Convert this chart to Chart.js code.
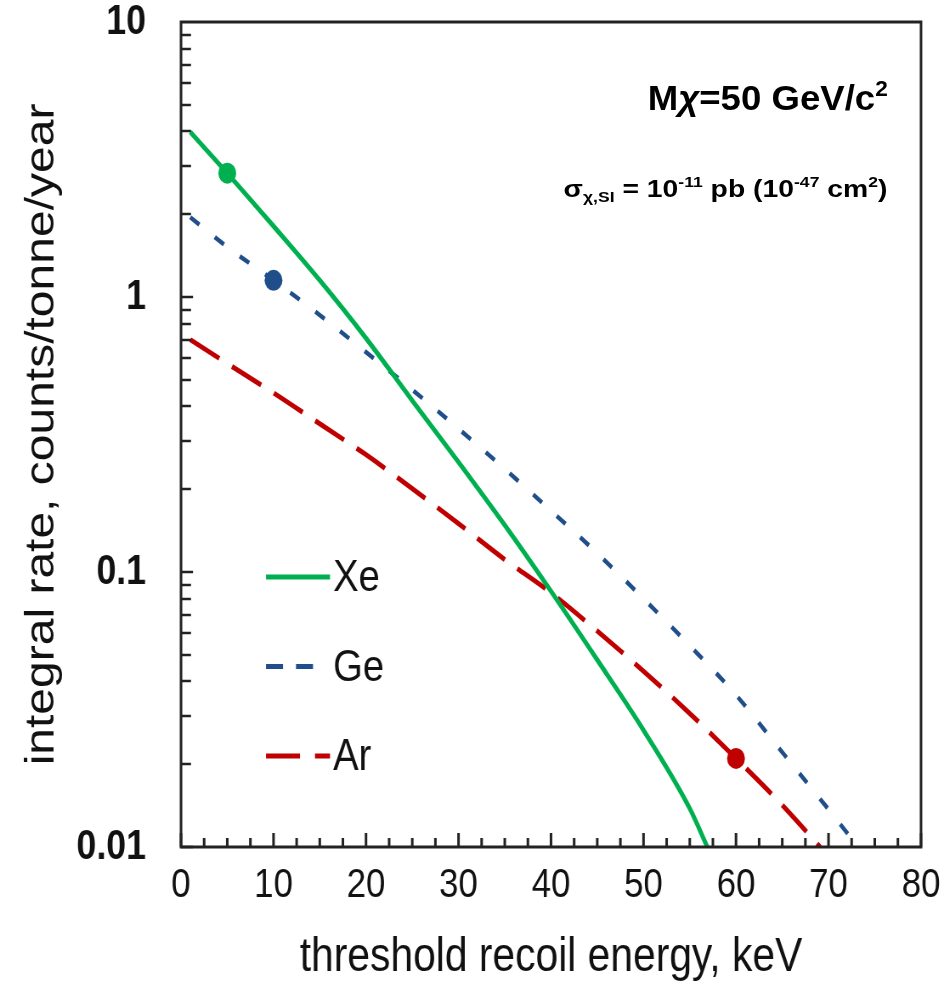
<!DOCTYPE html>
<html>
<head>
<meta charset="utf-8">
<script src="https://cdn.jsdelivr.net/npm/chart.js@4.4.1/dist/chart.umd.min.js"></script>
<style>
  body { margin: 0; background: #fff; }
  #wrap { position: relative; width: 944px; height: 991px; overflow: hidden; }
  #rateChart { width: 944px; height: 991px; }
  .note { position: absolute; font-family: 'Liberation Sans', Arial, sans-serif; font-weight: bold;
          color: #000; white-space: nowrap; line-height: 1; transform-origin: right center; }
  .note sup, .note sub { font-size: 62%; vertical-align: baseline; position: relative; }
  .note sup { top: -0.65em; }
  .note sub { top: 0.35em; }
</style>
</head>
<body>
<div id="wrap">
  <canvas id="rateChart" width="1111" height="991" style="width:944px;height:991px"></canvas>
  <div class="note" style="right:56px; top:80px; font-size:35px; transform:scaleX(1.045)">M<i>χ</i>=50 GeV/c<sup>2</sup></div>
  <div class="note" style="right:57px; top:177px; font-size:24px; transform:scaleX(1.18)">σ<sub>χ,SI</sub> = 10<sup>-11</sup> pb (10<sup>-47</sup> cm<sup>2</sup>)</div>
</div>
<script>
// threshold energy (keV) vs integral rate (counts/tonne/year)
const xeEnergy = [1, 5, 10, 15, 20, 25, 30, 35, 40, 45, 50, 55, 56.9]
const xeRate   = [3.98, 2.82, 1.81, 1.15, 0.708, 0.42, 0.251, 0.148, 0.0851, 0.0479, 0.0266, 0.0138, 0.01]

const geEnergy = [1, 5, 10, 15, 20, 25, 30, 35, 40, 45, 50, 55, 60, 65, 70, 73.2]
const geRate   = [1.95, 1.52, 1.15, 0.86, 0.63, 0.46, 0.332, 0.237, 0.167, 0.117, 0.080, 0.054, 0.0357, 0.0221, 0.0137, 0.01]

const arEnergy = [1, 5, 10, 15, 20, 25, 30, 35, 40, 45, 50, 55, 60, 65, 69.1]
const arRate   = [0.70, 0.573, 0.448, 0.346, 0.267, 0.201, 0.150, 0.111, 0.084, 0.061, 0.0436, 0.0306, 0.021, 0.0142, 0.01]

// energy at which each curve carries its dot
const xeMarker = 5
const geMarker = 10
const arMarker = 60

const xTicks = [0, 10, 20, 30, 40, 50, 60, 70, 80]
const xMinorStep = 2.5
const yTicks = [0.01, 0.1, 1, 10]
const yTickLabels = ['0.01', '0.1', '1', '10']

// the original figure is a bit squashed sideways: draw wide, show at 944px
const squeeze = 944 / 1111
const px = v => v / squeeze

const font = "'Liberation Sans', Arial, sans-serif"

function pairs(xs, ys) {
  return xs.map((x, i) => ({x: x, y: ys[i]}))
}

function series(label, xs, ys, color, width, dash, legend, marker) {
  return {
    label: label,
    data: pairs(xs, ys),
    borderColor: color,
    backgroundColor: color,
    borderWidth: width,
    borderDash: dash,
    legend: legend,
    cubicInterpolationMode: 'monotone',
    pointRadius: ctx => (ctx.raw && ctx.raw.x === marker ? 10.5 : 0),
    pointHoverRadius: 0,
    pointBorderWidth: 0
  }
}

// ticks pointing inwards + closed frame
const frameTicks = {
  id: 'frameTicks',
  afterDraw(chart) {
    const {ctx, chartArea: a, scales: {x, y}} = chart
    ctx.save()
    ctx.strokeStyle = '#222'
    ctx.lineWidth = 3
    ctx.beginPath()
    for (let v = x.min; v <= x.max; v += xMinorStep) {
      const p = x.getPixelForValue(v)
      const len = xTicks.includes(v) ? 14 : 9
      ctx.moveTo(p, a.bottom)
      ctx.lineTo(p, a.bottom - len)
    }
    ctx.stroke()
    ctx.lineWidth = 2.5
    ctx.beginPath()
    for (let d = 0; d < yTicks.length - 1; d++) {
      for (let m = 1; m < 10; m++) {
        const p = Math.round(y.getPixelForValue(yTicks[d] * m))
        const len = m === 1 ? px(12) : px(10)
        ctx.moveTo(a.left, p)
        ctx.lineTo(a.left + len, p)
      }
    }
    ctx.stroke()
    ctx.lineWidth = 3
    ctx.strokeRect(a.left, a.top, a.right - a.left, a.bottom - a.top)
    ctx.restore()
  }
}

// legend drawn inside the plot, lower left
const innerLegend = {
  id: 'innerLegend',
  afterDatasetsDraw(chart) {
    const ctx = chart.ctx
    const top = 577, step = 89.5
    ctx.save()
    chart.data.datasets.forEach((ds, i) => {
      const yy = top + i * step
      ctx.strokeStyle = ds.borderColor
      ctx.lineWidth = 5
      ctx.setLineDash(ds.legend.dash.map(px))
      ctx.beginPath()
      ctx.moveTo(px(266), yy)
      ctx.lineTo(px(ds.legend.end), yy)
      ctx.stroke()
      ctx.setLineDash([])
      ctx.fillStyle = '#111'
      ctx.font = '45px ' + font
      ctx.textBaseline = 'middle'
      ctx.fillText(ds.label, px(333), yy + 2)
    })
    ctx.restore()
  }
}

const ctx = document.getElementById('rateChart').getContext('2d')
const rateChart = new Chart(ctx, {
  type: 'line',
  data: {
    datasets: [
      series('Xe', xeEnergy, xeRate, '#00B050', 5, [], {dash: [], end: 330}, xeMarker),
      series('Ge', geEnergy, geRate, '#1F4E8A', 4.5, [13, 22], {dash: [17, 13], end: 316}, geMarker),
      series('Ar', arEnergy, arRate, '#C00000', 5, [39, 17], {dash: [34, 15], end: 330}, arMarker)
    ]
  },
  options: {
    responsive: false,
    animation: false,
    layout: {padding: {left: 0, top: 22, right: px(23), bottom: 0}},
    plugins: {legend: {display: false}, tooltip: {enabled: false}},
    scales: {
      x: {
        type: 'linear',
        min: 0,
        max: 80,
        afterFit: s => { s.height = 144; s.paddingLeft = 0; s.paddingRight = 0 },
        afterBuildTicks: s => { s.ticks = xTicks.map(v => ({value: v})) },
        grid: {display: false, drawTicks: false},
        border: {display: false},
        ticks: {color: '#111', padding: 14, maxRotation: 0, font: {family: font, size: 41}},
        title: {display: true, text: 'threshold recoil energy, keV', color: '#111',
                padding: {top: 0, bottom: 4}, font: {family: font, size: 48}}
      },
      y: {
        type: 'logarithmic',
        min: 0.01,
        max: 10,
        afterFit: s => { s.width = px(181); s.paddingTop = 0; s.paddingBottom = 0 },
        afterBuildTicks: s => { s.ticks = yTicks.map(v => ({value: v})) },
        grid: {display: false, drawTicks: false},
        border: {display: false},
        ticks: {color: '#111', padding: px(35), autoSkip: false,
                callback: v => yTickLabels[yTicks.indexOf(v)],
                font: {family: font, size: 42, weight: 'bold'}},
        title: {display: true, text: 'integral rate, counts/tonne/year', color: '#111',
                padding: {top: px(42) - 28.8, bottom: 0}, font: {family: font, size: 48}}
      }
    }
  },
  plugins: [frameTicks, innerLegend]
})
</script>
</body>
</html>
